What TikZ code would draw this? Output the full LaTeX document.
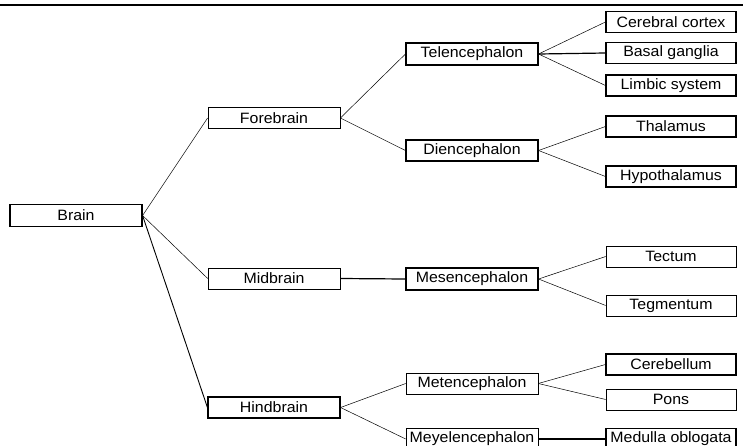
\documentclass[tikz,border=0pt]{standalone}
\usepackage{fontspec}
\setmainfont[FakeStretch=1.06]{Liberation Sans}
\begin{document}
\begin{tikzpicture}[x=1pt,y=-1pt,
  box/.style={draw, rectangle, inner sep=0pt, minimum width=132pt, minimum height=21pt,
    font=\fontsize{15}{17}\selectfont, line width=0.6pt},
  leaf/.style={box, minimum width=130pt},
  thk/.style={line width=1.1pt},
  link/.style={line width=0.5pt},
  hlink/.style={line width=1.2pt}]
\useasboundingbox (0,0) rectangle (745,445);
\coordinate (ruleL) at (0,5);
\coordinate (ruleR) at (743,5);
\draw[line width=1.5pt] (ruleL) -- (ruleR);

% level 1
\node[box,thk,minimum height=22pt] (brain) at (76,215.5) {Brain};
% level 2
\node[box,line width=0.8pt] (fore) at (274,118) {Forebrain};
\node[box] (mid) at (274,278.5) {Midbrain};
\node[box,thk] (hind) at (274,407.5) {Hindbrain};
% level 3
\node[box,thk,minimum height=22pt] (tel) at (472,54) {Telencephalon};
\node[box,thk] (die) at (472,150.5) {Diencephalon};
\node[box,thk,minimum height=22pt] (mes) at (472,279) {Mesencephalon};
\node[box] (met) at (472,383.5) {Metencephalon};
\node[box] (mey) at (472,439) {Meyelencephalon};
% level 4
\node[leaf,thk] (cc) at (671,22) {Cerebral cortex};
\node[leaf,thk] (bg) at (671,53) {Basal ganglia};
\node[leaf,thk] (ls) at (671,85.5) {Limbic system};
\node[leaf,thk] (tha) at (671,126.5) {Thalamus};
\node[leaf,thk] (hyp) at (671,176.5) {Hypothalamus};
\node[leaf] (tec) at (671,256.5) {Tectum};
\node[leaf] (teg) at (671,305.5) {Tegmentum};
\node[leaf,thk] (cer) at (671,364.5) {Cerebellum};
\node[leaf] (pons) at (671,399.5) {Pons};
\node[leaf,thk] (med) at (671,439) {Medulla oblogata};

% connectors
\draw[link] (brain.east) -- (fore.west);
\draw[link] (brain.east) -- (mid.west);
\draw[link,line width=0.9pt] (brain.east) -- (hind.west);
\draw[link] (fore.east) -- (tel.west);
\draw[link] (fore.east) -- (die.west);
\draw[hlink] (mid.east) -- (mes.west);
\draw[link] (hind.east) -- (met.west);
\draw[link] (hind.east) -- (mey.west);
\draw[link] (tel.east) -- (cc.west);
\draw[hlink] (tel.east) -- (bg.west);
\draw[link] (tel.east) -- (ls.west);
\draw[link] (die.east) -- (tha.west);
\draw[link] (die.east) -- (hyp.west);
\draw[link] (mes.east) -- (tec.west);
\draw[link] (mes.east) -- (teg.west);
\draw[link] (met.east) -- (cer.west);
\draw[link] (met.east) -- (pons.west);
\draw[hlink] (mey.east) -- (med.west);
\end{tikzpicture}
\end{document}
